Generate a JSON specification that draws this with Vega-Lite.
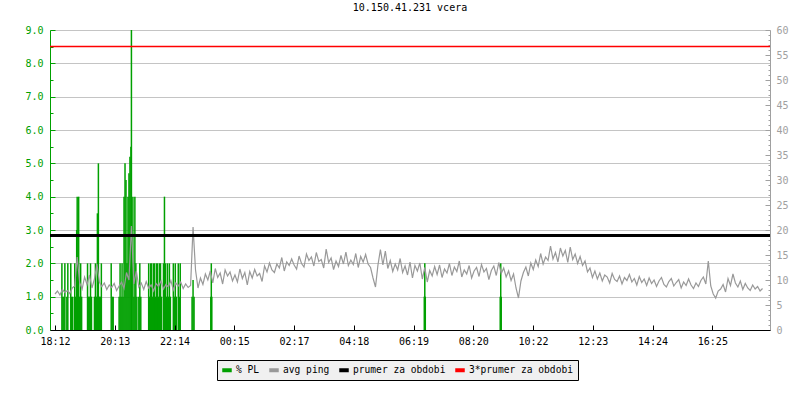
{
  "$schema": "https://vega.github.io/schema/vega-lite/v6.json",
  "width": 720,
  "height": 300,
  "autosize": {"type": "none"},
  "padding": {"left": 50, "top": 30, "right": 30, "bottom": 70},
  "background": "#ffffff",
  "title": {"text": "10.150.41.231 vcera", "font": "DejaVu Sans Mono", "fontSize": 10, "fontWeight": "normal", "color": "#000000", "offset": 12},
  "config": {
    "font": "DejaVu Sans Mono",
    "view": {"stroke": null},
    "axis": {"labelFont": "DejaVu Sans Mono", "labelFontSize": 10, "title": null}
  },
  "datasets": {
    "pl": [
      {"t":14,"v":2},{"t":16,"v":1},{"t":18,"v":1},{"t":20,"v":2},
      {"t":24,"v":1},{"t":26,"v":2},
      {"t":32,"v":2},{"t":34,"v":1},{"t":36,"v":1},
      {"t":40,"v":2},{"t":42,"v":1},{"t":44,"v":3},{"t":45,"v":4},{"t":46,"v":2},{"t":48,"v":4},
      {"t":50,"v":1},{"t":52,"v":2},{"t":54,"v":1},
      {"t":66,"v":2},{"t":68,"v":1},{"t":70,"v":1},{"t":72,"v":2},{"t":74,"v":1},
      {"t":80,"v":1},{"t":82,"v":2},{"t":84,"v":1},{"t":86,"v":3.5},{"t":88,"v":5},{"t":90,"v":1},{"t":92,"v":1},{"t":94,"v":2},
      {"t":114,"v":2},{"t":116,"v":1},{"t":118,"v":1},
      {"t":130,"v":1},{"t":132,"v":2},{"t":134,"v":1},{"t":136,"v":2},{"t":138,"v":1},{"t":140,"v":4},{"t":142,"v":5},{"t":144,"v":4.5},{"t":146,"v":2},{"t":148,"v":4},{"t":150,"v":4.7},{"t":152,"v":5.2},{"t":154,"v":5.5},{"t":155,"v":9},{"t":156,"v":2},{"t":158,"v":4},{"t":160,"v":1},{"t":162,"v":4},{"t":164,"v":2},{"t":166,"v":1},
      {"t":170,"v":1},{"t":172,"v":2},{"t":174,"v":1},
      {"t":190,"v":2},{"t":192,"v":1},{"t":194,"v":2},{"t":196,"v":2},{"t":198,"v":1},{"t":200,"v":2},{"t":202,"v":2},{"t":204,"v":1},{"t":206,"v":2},{"t":208,"v":2},{"t":210,"v":1},{"t":212,"v":2},{"t":214,"v":2},{"t":216,"v":1},
      {"t":220,"v":2},{"t":222,"v":4},{"t":224,"v":2},{"t":226,"v":1},{"t":228,"v":2},{"t":230,"v":1},{"t":232,"v":2},{"t":234,"v":1},
      {"t":240,"v":2},{"t":242,"v":1},{"t":244,"v":2},{"t":246,"v":1},
      {"t":250,"v":2},{"t":252,"v":1},{"t":254,"v":2},
      {"t":278,"v":1},{"t":280,"v":1.5},{"t":282,"v":1},
      {"t":316,"v":1},{"t":317,"v":2},{"t":318,"v":1},
      {"t":749,"v":1},{"t":750,"v":2},{"t":751,"v":1},
      {"t":903,"v":1},{"t":904,"v":2},{"t":905,"v":1}
    ],
    "ping": [
      {"t":0,"v":7.2},{"t":5,"v":7.8},{"t":10,"v":7.0},{"t":15,"v":8.1},{"t":20,"v":7.5},{"t":25,"v":7.9},{"t":30,"v":7.3},{"t":35,"v":8.4},{"t":40,"v":8.8},{"t":45,"v":14.6},
      {"t":50,"v":9.5},{"t":55,"v":8.2},{"t":60,"v":10.6},{"t":65,"v":9.1},{"t":70,"v":11.0},{"t":75,"v":8.4},{"t":80,"v":10.2},{"t":85,"v":13.2},{"t":90,"v":9.6},{"t":95,"v":8.7},
      {"t":100,"v":9.4},{"t":105,"v":8.1},{"t":110,"v":9.0},{"t":115,"v":8.5},{"t":120,"v":9.3},{"t":125,"v":7.9},{"t":130,"v":8.8},{"t":135,"v":9.6},{"t":140,"v":8.3},{"t":145,"v":11.5},
      {"t":150,"v":10.0},{"t":155,"v":20.8},{"t":160,"v":9.2},{"t":165,"v":11.8},{"t":170,"v":8.6},{"t":175,"v":9.4},{"t":180,"v":8.1},{"t":185,"v":9.7},{"t":190,"v":8.4},{"t":195,"v":9.0},
      {"t":200,"v":7.8},{"t":205,"v":9.3},{"t":210,"v":8.7},{"t":215,"v":9.8},{"t":220,"v":8.2},{"t":225,"v":9.1},{"t":230,"v":8.6},{"t":235,"v":9.9},{"t":240,"v":8.0},{"t":245,"v":9.4},
      {"t":250,"v":8.8},{"t":255,"v":9.6},{"t":260,"v":8.3},{"t":265,"v":9.2},{"t":270,"v":8.5},{"t":275,"v":8.9},{"t":280,"v":20.6},{"t":285,"v":12.0},{"t":290,"v":8.4},{"t":295,"v":10.4},
      {"t":300,"v":9.1},{"t":305,"v":11.2},{"t":310,"v":10.0},{"t":315,"v":11.8},{"t":320,"v":9.4},{"t":325,"v":12.3},{"t":330,"v":10.5},{"t":335,"v":11.4},{"t":340,"v":9.2},{"t":345,"v":12.0},
      {"t":350,"v":10.8},{"t":355,"v":11.6},{"t":360,"v":9.8},{"t":365,"v":11.0},{"t":370,"v":9.6},{"t":375,"v":12.2},{"t":380,"v":10.3},{"t":385,"v":11.5},{"t":390,"v":9.0},{"t":395,"v":11.7},
      {"t":400,"v":10.4},{"t":405,"v":12.1},{"t":410,"v":10.8},{"t":415,"v":11.3},{"t":420,"v":9.7},{"t":425,"v":12.8},{"t":430,"v":11.6},{"t":435,"v":13.4},{"t":440,"v":12.0},{"t":445,"v":11.5},
      {"t":450,"v":13.2},{"t":455,"v":12.4},{"t":460,"v":14.5},{"t":465,"v":11.8},{"t":470,"v":13.6},{"t":475,"v":12.9},{"t":480,"v":14.2},{"t":485,"v":13.0},{"t":490,"v":12.2},{"t":495,"v":14.8},
      {"t":500,"v":13.3},{"t":505,"v":12.6},{"t":510,"v":15.2},{"t":515,"v":13.9},{"t":520,"v":14.6},{"t":525,"v":12.8},{"t":530,"v":15.5},{"t":535,"v":13.7},{"t":540,"v":14.1},{"t":545,"v":12.4},
      {"t":550,"v":16.2},{"t":555,"v":13.5},{"t":560,"v":14.4},{"t":565,"v":12.1},{"t":570,"v":13.8},{"t":575,"v":12.7},{"t":580,"v":14.9},{"t":585,"v":13.2},{"t":590,"v":15.6},{"t":595,"v":12.9},
      {"t":600,"v":14.0},{"t":605,"v":13.1},{"t":610,"v":15.3},{"t":615,"v":12.5},{"t":620,"v":14.7},{"t":625,"v":13.6},{"t":630,"v":15.1},{"t":635,"v":13.2},{"t":640,"v":12.5},{"t":645,"v":10.4},
      {"t":650,"v":8.6},{"t":655,"v":13.0},{"t":660,"v":16.1},{"t":665,"v":13.0},{"t":670,"v":15.8},{"t":675,"v":12.3},{"t":680,"v":13.9},{"t":685,"v":11.7},{"t":690,"v":13.2},{"t":695,"v":12.0},
      {"t":700,"v":14.3},{"t":705,"v":11.5},{"t":710,"v":12.8},{"t":715,"v":11.0},{"t":720,"v":13.6},{"t":725,"v":10.4},{"t":730,"v":12.9},{"t":735,"v":11.8},{"t":740,"v":13.4},{"t":745,"v":10.2},
      {"t":750,"v":12.5},{"t":755,"v":9.6},{"t":760,"v":11.9},{"t":765,"v":10.8},{"t":770,"v":12.7},{"t":775,"v":11.1},{"t":780,"v":13.0},{"t":785,"v":10.5},{"t":790,"v":12.2},{"t":795,"v":11.4},
      {"t":800,"v":13.3},{"t":805,"v":10.9},{"t":810,"v":12.6},{"t":815,"v":11.7},{"t":820,"v":13.8},{"t":825,"v":10.6},{"t":830,"v":12.0},{"t":835,"v":11.2},{"t":840,"v":12.9},{"t":845,"v":10.4},
      {"t":850,"v":11.8},{"t":855,"v":12.5},{"t":860,"v":10.7},{"t":865,"v":13.1},{"t":870,"v":11.6},{"t":875,"v":12.3},{"t":880,"v":10.1},{"t":885,"v":11.9},{"t":890,"v":12.8},{"t":895,"v":10.9},
      {"t":900,"v":13.5},{"t":905,"v":11.3},{"t":910,"v":12.4},{"t":915,"v":10.6},{"t":920,"v":11.8},{"t":925,"v":9.9},{"t":930,"v":11.2},{"t":935,"v":8.4},{"t":940,"v":6.4},{"t":945,"v":9.8},
      {"t":950,"v":11.5},{"t":955,"v":12.6},{"t":960,"v":10.8},{"t":965,"v":13.4},{"t":970,"v":12.1},{"t":975,"v":14.0},{"t":980,"v":12.7},{"t":985,"v":15.3},{"t":990,"v":13.2},{"t":995,"v":14.6},
      {"t":1000,"v":13.9},{"t":1005,"v":16.8},{"t":1010,"v":14.2},{"t":1015,"v":15.5},{"t":1020,"v":13.6},{"t":1025,"v":16.4},{"t":1030,"v":14.8},{"t":1035,"v":15.9},{"t":1040,"v":13.5},{"t":1045,"v":16.6},
      {"t":1050,"v":14.1},{"t":1055,"v":15.2},{"t":1060,"v":13.3},{"t":1065,"v":14.7},{"t":1070,"v":12.9},{"t":1075,"v":13.8},{"t":1080,"v":11.6},{"t":1085,"v":12.4},{"t":1090,"v":10.5},{"t":1095,"v":11.8},
      {"t":1100,"v":10.2},{"t":1105,"v":11.4},{"t":1110,"v":9.8},{"t":1115,"v":11.0},{"t":1120,"v":10.6},{"t":1125,"v":9.4},{"t":1130,"v":11.3},{"t":1135,"v":10.1},{"t":1140,"v":9.7},{"t":1145,"v":10.8},
      {"t":1150,"v":9.2},{"t":1155,"v":10.5},{"t":1160,"v":9.9},{"t":1165,"v":11.1},{"t":1170,"v":9.6},{"t":1175,"v":10.3},{"t":1180,"v":9.0},{"t":1185,"v":10.7},{"t":1190,"v":9.5},{"t":1195,"v":10.2},
      {"t":1200,"v":8.9},{"t":1205,"v":10.4},{"t":1210,"v":9.3},{"t":1215,"v":10.0},{"t":1220,"v":8.7},{"t":1225,"v":9.8},{"t":1230,"v":10.5},{"t":1235,"v":9.1},{"t":1240,"v":8.6},{"t":1245,"v":9.7},
      {"t":1250,"v":10.3},{"t":1255,"v":8.8},{"t":1260,"v":9.5},{"t":1265,"v":10.1},{"t":1270,"v":8.4},{"t":1275,"v":9.6},{"t":1280,"v":8.9},{"t":1285,"v":10.2},{"t":1290,"v":9.0},{"t":1295,"v":8.3},
      {"t":1300,"v":9.4},{"t":1305,"v":8.7},{"t":1310,"v":9.9},{"t":1315,"v":10.6},{"t":1320,"v":9.2},{"t":1325,"v":13.8},{"t":1330,"v":8.8},{"t":1335,"v":7.2},{"t":1340,"v":6.4},{"t":1345,"v":7.8},
      {"t":1350,"v":8.2},{"t":1355,"v":9.1},{"t":1360,"v":7.6},{"t":1365,"v":10.3},{"t":1370,"v":8.9},{"t":1375,"v":11.2},{"t":1380,"v":9.4},{"t":1385,"v":8.6},{"t":1390,"v":9.8},{"t":1395,"v":8.1},
      {"t":1400,"v":9.3},{"t":1405,"v":8.4},{"t":1410,"v":7.9},{"t":1415,"v":9.0},{"t":1420,"v":8.2},{"t":1425,"v":8.7},{"t":1430,"v":7.8},{"t":1435,"v":8.3}
    ],
    "avg": [{"v": 18.9}],
    "avg3": [{"v": 56.7}]
  },
  "layer": [
    {
      "data": {"name": "pl"},
      "mark": {"type": "bar", "size": 1.5, "orient": "vertical"},
      "encoding": {
        "x": {
          "field": "t", "type": "quantitative",
          "scale": {"domain": [0, 1440], "nice": false, "zero": false},
          "axis": {
            "orient": "bottom", "zindex": 1,
            "values": [0, 121.2, 242.4, 363.6, 484.8, 606, 727.2, 848.4, 969.6, 1090.8, 1212, 1333.2],
            "labelExpr": "['18:12','20:13','22:14','00:15','02:17','04:18','06:19','08:20','10:22','12:23','14:24','16:25'][round(datum.value / 121.2)]",
            "domainColor": "#000000", "tickColor": "#000000", "labelColor": "#000000",
            "tickSize": -5, "labelPadding": 11, "grid": false, "labelFlush": false, "labelOverlap": false
          }
        },
        "y": {
          "field": "v", "type": "quantitative",
          "scale": {"domain": [0, 9], "nice": false},
          "axis": {
            "orient": "left",
            "values": [0,0.5,1,1.5,2,2.5,3,3.5,4,4.5,5,5.5,6,6.5,7,7.5,8,8.5,9],
            "labelExpr": "datum.value % 1 === 0 ? format(datum.value, '.1f') : ''",
            "labelColor": "#00a000", "domainColor": "#00a000", "tickColor": "#00a000",
            "tickSize": {"condition": {"test": "datum.value % 1 === 0", "value": -5}, "value": -3},
            "labelPadding": 12,
            "grid": true, "gridColor": "#c4c4c4",
            "gridOpacity": {"condition": {"test": "datum.value % 1 === 0", "value": 1}, "value": 0},
            "labelOverlap": false, "labelFlush": false
          }
        },
        "color": {
          "datum": "% PL",
          "scale": {
            "domain": ["% PL", "avg ping", "prumer za obdobi", "3*prumer za obdobi"],
            "range": ["#00a000", "#999999", "#000000", "#ff0000"]
          },
          "legend": {
            "orient": "none", "legendX": 167, "legendY": 330,
            "direction": "horizontal", "title": null,
            "fillColor": "#f0f0f0", "strokeColor": "#000000", "padding": 5,
            "labelFont": "DejaVu Sans Mono", "labelFontSize": 9.6, "labelColor": "#000000",
            "symbolType": "M-1,-0.3H1V0.3H-1Z", "symbolSize": 64,
            "columnPadding": 7, "labelOffset": 4,
            "encode": {"symbols": {"update": {"fill": {"scale": "color", "field": "value"}, "stroke": {"value": "transparent"}, "opacity": {"value": 1}}}}
          }
        }
      }
    },
    {
      "encoding": {
        "y": {
          "field": "v", "type": "quantitative",
          "scale": {"domain": [0, 60], "nice": false},
          "axis": {
            "orient": "right",
            "values": [0,1,2,3,4,5,6,7,8,9,10,11,12,13,14,15,16,17,18,19,20,21,22,23,24,25,26,27,28,29,30,31,32,33,34,35,36,37,38,39,40,41,42,43,44,45,46,47,48,49,50,51,52,53,54,55,56,57,58,59,60],
            "labelExpr": "datum.value % 5 === 0 ? format(datum.value, 'd') : ''",
            "labelColor": "#a0a0a0", "domainColor": "#a0a0a0", "tickColor": "#a0a0a0",
            "tickSize": {"condition": {"test": "datum.value % 5 === 0", "value": -5}, "value": -2},
            "labelPadding": 11, "grid": false, "labelOverlap": false, "labelFlush": false
          }
        }
      },
      "layer": [
        {
          "data": {"name": "ping"},
          "mark": {"type": "line", "strokeWidth": 1.2, "interpolate": "linear"},
          "encoding": {
            "x": {"field": "t", "type": "quantitative", "scale": {"domain": [0, 1440], "nice": false, "zero": false}},
            "color": {"datum": "avg ping"}
          }
        },
        {
          "data": {"name": "avg"},
          "mark": {"type": "rule", "strokeWidth": 3},
          "encoding": {"color": {"datum": "prumer za obdobi"}}
        },
        {
          "data": {"name": "avg3"},
          "mark": {"type": "rule", "strokeWidth": 1.5},
          "encoding": {"color": {"datum": "3*prumer za obdobi"}}
        }
      ]
    }
  ],
  "resolve": {"scale": {"y": "independent"}}
}
